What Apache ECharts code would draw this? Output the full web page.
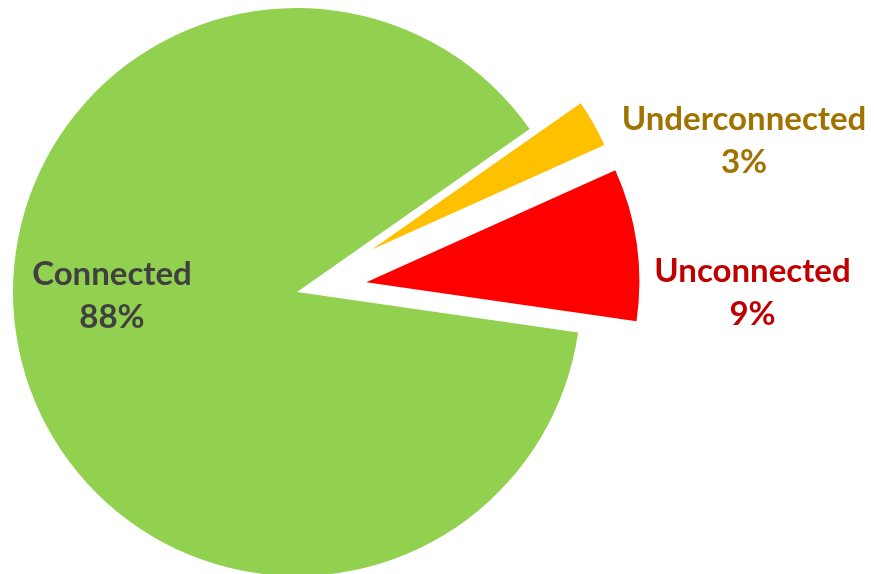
<!DOCTYPE html>
<html><head><meta charset="utf-8">
<script src="https://cdn.jsdelivr.net/npm/echarts@6/dist/echarts.min.js"></script>
<style>html,body{margin:0;padding:0;background:#fff}#c{width:877px;height:574px}</style>
</head><body><div id="c"></div>
<script>
const categories = ['Underconnected', 'Unconnected', 'Connected'];
const shares = [3, 9, 88];
const sliceColors = ['#FFC000', '#FF0000', '#92D050'];
const labelColors = ['#A07300', '#C00000', '#404040'];

const START = 35;
const baseCenter = [297, 292];
const radii = [255, 273, 284];
const offsets = [86, 70, 0];
const labelPos = [[744, 140.5], [752.5, 293], [112, 296]];

const total = shares.reduce((a, b) => a + b, 0);
let acc = 0;
const series = categories.map((name, i) => {
  const mid = START - (acc + shares[i] / 2) / total * 360;
  acc += shares[i];
  const rad = mid * Math.PI / 180;
  const cx = baseCenter[0] + offsets[i] * Math.cos(rad);
  const cy = baseCenter[1] - offsets[i] * Math.sin(rad);
  return {
    type: 'pie', silent: true, startAngle: START, clockwise: true,
    center: [cx, cy], radius: [0, radii[i]],
    avoidLabelOverlap: false, animation: false,
    label: {
      position: 'inside', formatter: '{b}\n{c}%',
      fontFamily: 'Lato', fontWeight: 'bold', fontSize: 33, lineHeight: 43,
      color: labelColors[i]
    },
    labelLine: { show: false },
    emphasis: { disabled: true },
    labelLayout: { x: labelPos[i][0], y: labelPos[i][1], align: 'center', verticalAlign: 'middle' },
    data: categories.map((n, j) => ({
      name: n, value: shares[j],
      itemStyle: { color: j === i ? sliceColors[j] : 'rgba(0,0,0,0)', borderWidth: 0 },
      label: { show: j === i }
    }))
  };
});

const chart = echarts.init(document.getElementById('c'), null, { renderer: 'canvas' });
chart.setOption({ backgroundColor: '#ffffff', animation: false, series: series });
</script>
</body></html>
